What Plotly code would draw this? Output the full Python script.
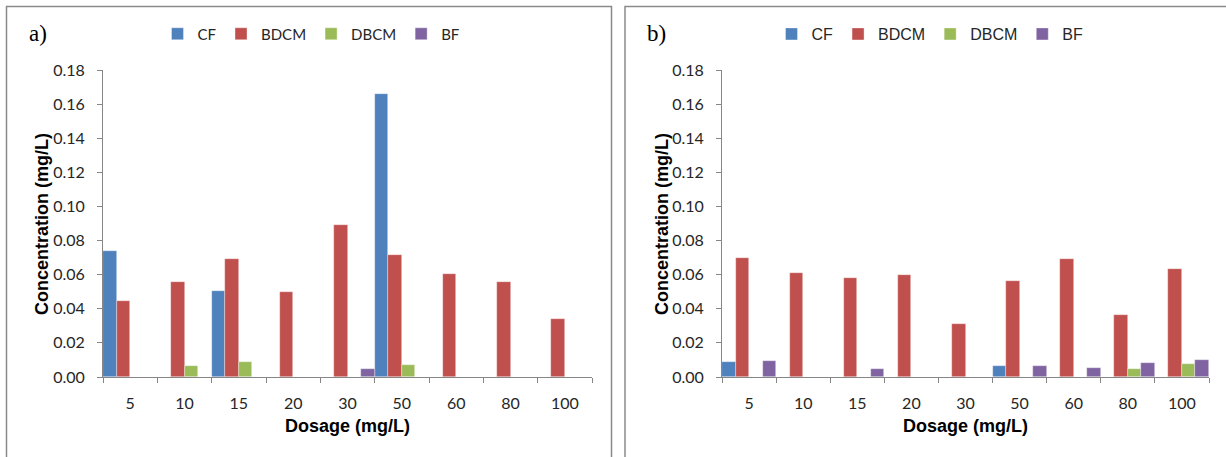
import plotly.graph_objects as go

dosage = ["5", "10", "15", "20", "30", "50", "60", "80", "100"]
series_names = ["CF", "BDCM", "DBCM", "BF"]
colors = ["#4F81BD", "#C0504D", "#9BBB59", "#8064A2"]

# Panel a)
a_CF = [0.0736, 0, 0.0504, 0, 0, 0.1657, 0, 0, 0]
a_BDCM = [0.0447, 0.0559, 0.0694, 0.0498, 0.0893, 0.0715, 0.0604, 0.0559, 0.0340]
a_DBCM = [0, 0.0066, 0.0090, 0, 0, 0.0070, 0, 0, 0]
a_BF = [0, 0, 0, 0, 0.0049, 0, 0, 0, 0]

# Panel b)
b_CF = [0.0089, 0, 0, 0, 0, 0.0064, 0, 0, 0]
b_BDCM = [0.0698, 0.0610, 0.0581, 0.0601, 0.0309, 0.0564, 0.0689, 0.0364, 0.0636]
b_DBCM = [0, 0, 0, 0, 0, 0, 0, 0.0048, 0.0078]
b_BF = [0.0095, 0, 0.0048, 0, 0, 0.0064, 0.0053, 0.0084, 0.0099]

panel_a = [a_CF, a_BDCM, a_DBCM, a_BF]
panel_b = [b_CF, b_BDCM, b_DBCM, b_BF]

W, H = 1226, 457
fig = go.Figure()

for name, col, vals in zip(series_names, colors, panel_a):
    fig.add_trace(go.Bar(x=dosage, y=vals, name=name, marker=dict(color=col, line=dict(width=0.6, color="rgba(255,255,255,0.6)")),
                         xaxis="x", yaxis="y", legend="legend"))
for name, col, vals in zip(series_names, colors, panel_b):
    fig.add_trace(go.Bar(x=dosage, y=vals, name=name, marker=dict(color=col, line=dict(width=0.6, color="rgba(255,255,255,0.6)")),
                         xaxis="x2", yaxis="y2", legend="legend2"))

tick_font = dict(family="Lato", size=16, color="#262626")
axis_common = dict(showline=True, linecolor="#868686", linewidth=1, ticks="outside",
                   ticklen=5, tickcolor="#868686", showgrid=False, zeroline=False)

xa = dict(axis_common, type="category", tickson="boundaries", tickfont=tick_font, ticklabelstandoff=12)
ya = dict(axis_common, range=[0, 0.18], dtick=0.02, tickformat=".2f", tickfont=tick_font, ticklabelstandoff=9)

fig.update_layout(
    width=W, height=H,
    margin=dict(l=0, r=0, t=0, b=0, autoexpand=False),
    paper_bgcolor="white", plot_bgcolor="white",
    barmode="group", bargap=0, bargroupgap=0,
    xaxis=dict(xa, domain=[103 / W, 592 / W], anchor="y"),
    yaxis=dict(ya, domain=[(H - 377) / H, (H - 70) / H], anchor="x"),
    xaxis2=dict(xa, domain=[722 / W, 1209 / W], anchor="y2"),
    yaxis2=dict(ya, domain=[(H - 377) / H, (H - 70) / H], anchor="x2"),
    legend=dict(orientation="h", x=311 / W, xanchor="center", y=1 - 34 / H, yanchor="middle",
                font=dict(family="Lato", size=15, color="#262626"), itemwidth=30, bgcolor="rgba(0,0,0,0)"),
    legend2=dict(orientation="h", x=930 / W, xanchor="center", y=1 - 34 / H, yanchor="middle",
                 font=dict(family="Liberation Sans", size=16, color="#262626"), itemwidth=30, bgcolor="rgba(0,0,0,0)"),
    showlegend=True,
)

# panel borders
fig.add_shape(type="rect", xref="paper", yref="paper", x0=6.5 / W, x1=611.5 / W, y0=-0.1, y1=1 - 6.5 / H,
              line=dict(color="#8a8a8a", width=1.5), layer="below")
fig.add_shape(type="rect", xref="paper", yref="paper", x0=625 / W, x1=1.1, y0=-0.1, y1=1 - 6.5 / H,
              line=dict(color="#8a8a8a", width=1.5), layer="below")

title_font = dict(family="Liberation Sans", size=18, color="#000000", weight="bold")
lab_font = dict(family="Liberation Serif", size=23, color="#000000")
for xc, xt, lab_x, lab in [(347.5, 42, 38, "a)"), (965.5, 662, 656, "b)")]:
    fig.add_annotation(text="Dosage (mg/L)", x=xc / W, y=1 - 426 / H, xref="paper", yref="paper",
                       showarrow=False, font=title_font, xanchor="center", yanchor="middle")
    fig.add_annotation(text="Concentration (mg/L)", x=xt / W, y=1 - 224 / H, xref="paper", yref="paper",
                       showarrow=False, font=title_font, textangle=-90, xanchor="center", yanchor="middle")
    fig.add_annotation(text=lab, x=lab_x / W, y=1 - 34 / H, xref="paper", yref="paper",
                       showarrow=False, font=lab_font, xanchor="center", yanchor="middle")

fig.write_html("out.html", config={"displayModeBar": False},
               post_script="document.body.style.margin='0';document.body.style.overflow='hidden';")
